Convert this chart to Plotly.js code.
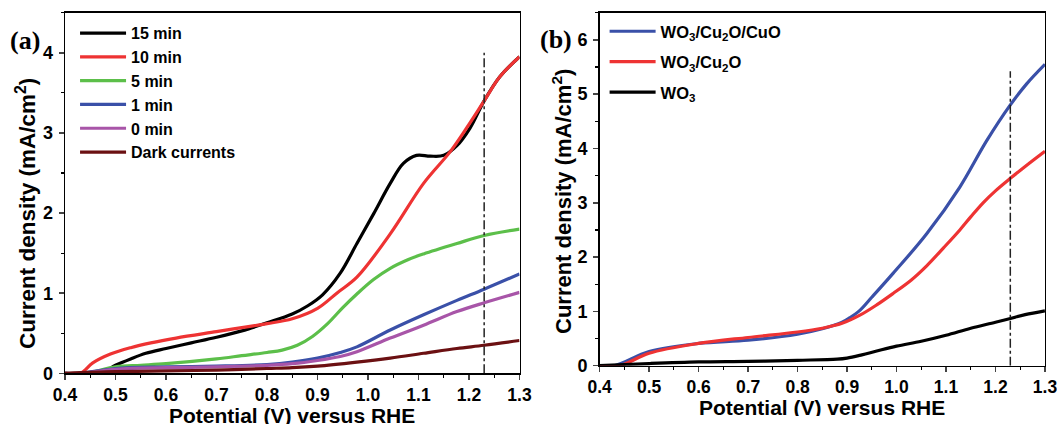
<!DOCTYPE html>
<html>
<head>
<meta charset="utf-8">
<script src="https://cdn.plot.ly/plotly-3.0.1.min.js"></script>
<style>html,body{margin:0;padding:0;background:#fff}#chart{width:1057px;height:425px}</style>
</head>
<body>
<div id="chart"></div>
<script>
// ---------- Panel (a) data ----------
const xA_15 = [0.40, 0.47, 0.50, 0.53, 0.56, 0.60, 0.65, 0.70, 0.75, 0.80, 0.85, 0.88, 0.91, 0.945, 0.978, 1.011, 1.044, 1.070, 1.096, 1.123, 1.150, 1.176, 1.202, 1.230, 1.261, 1.300];
const yA_15 = [0.00, 0.00, 0.10, 0.18, 0.25, 0.31, 0.38, 0.45, 0.53, 0.63, 0.74, 0.84, 0.98, 1.25, 1.62, 1.99, 2.37, 2.62, 2.72, 2.71, 2.72, 2.84, 3.06, 3.40, 3.70, 3.95];
const xA_10 = [0.40, 0.43, 0.455, 0.49, 0.53, 0.57, 0.62, 0.70, 0.75, 0.80, 0.85, 0.90, 0.94, 0.978, 1.044, 1.110, 1.162, 1.195, 1.230, 1.261, 1.300];
const yA_10 = [0.00, 0.00, 0.13, 0.24, 0.32, 0.38, 0.44, 0.52, 0.57, 0.62, 0.68, 0.81, 1.01, 1.20, 1.74, 2.37, 2.76, 3.06, 3.40, 3.70, 3.95];
const xA_5 = [0.40, 0.44, 0.50, 0.55, 0.60, 0.70, 0.75, 0.80, 0.83, 0.86, 0.89, 0.92, 0.95, 0.978, 1.011, 1.044, 1.080, 1.110, 1.176, 1.230, 1.300];
const yA_5 = [0.00, 0.00, 0.08, 0.10, 0.12, 0.18, 0.22, 0.26, 0.29, 0.35, 0.46, 0.62, 0.82, 0.99, 1.17, 1.31, 1.42, 1.49, 1.62, 1.72, 1.80];
const xA_1 = [0.40, 0.43, 0.50, 0.60, 0.70, 0.80, 0.85, 0.90, 0.945, 0.978, 1.044, 1.110, 1.176, 1.230, 1.300];
const yA_1 = [0.00, 0.00, 0.06, 0.08, 0.09, 0.11, 0.14, 0.19, 0.26, 0.33, 0.54, 0.73, 0.91, 1.05, 1.24];
const xA_0 = [0.40, 0.43, 0.50, 0.60, 0.70, 0.80, 0.85, 0.90, 0.945, 0.978, 1.044, 1.110, 1.176, 1.230, 1.300];
const yA_0 = [0.00, 0.00, 0.05, 0.07, 0.08, 0.10, 0.12, 0.16, 0.21, 0.27, 0.44, 0.60, 0.77, 0.88, 1.01];
const xA_dark = [0.40, 0.50, 0.60, 0.70, 0.80, 0.85, 0.90, 0.978, 1.044, 1.110, 1.176, 1.230, 1.300];
const yA_dark = [0.00, 0.02, 0.03, 0.04, 0.06, 0.07, 0.09, 0.14, 0.19, 0.25, 0.31, 0.35, 0.41];
const namesA = ["15 min", "10 min", "5 min", "1 min", "0 min", "Dark currents"];
const vlineA_x = [1.23, 1.23];
const vlineA_y = [0, 4];

// ---------- Panel (b) data ----------
const xB_CuO = [0.40, 0.43, 0.50, 0.60, 0.70, 0.80, 0.85, 0.89, 0.905, 0.926, 0.95, 0.993, 1.061, 1.128, 1.182, 1.229, 1.263, 1.300];
const yB_CuO = [0.00, 0.00, 0.26, 0.41, 0.47, 0.58, 0.68, 0.80, 0.88, 1.02, 1.26, 1.70, 2.43, 3.29, 4.14, 4.79, 5.19, 5.55];
const xB_Cu2O = [0.40, 0.44, 0.50, 0.60, 0.70, 0.80, 0.85, 0.89, 0.926, 0.960, 0.993, 1.030, 1.061, 1.095, 1.128, 1.150, 1.175, 1.200, 1.230, 1.260, 1.300];
const yB_Cu2O = [0.00, 0.00, 0.23, 0.41, 0.52, 0.62, 0.69, 0.78, 0.93, 1.12, 1.33, 1.58, 1.84, 2.17, 2.50, 2.74, 3.00, 3.22, 3.45, 3.67, 3.95];
const xB_WO3 = [0.40, 0.50, 0.60, 0.70, 0.80, 0.88, 0.90, 0.93, 0.96, 1.00, 1.05, 1.10, 1.15, 1.20, 1.23, 1.26, 1.30];
const yB_WO3 = [0.00, 0.04, 0.07, 0.08, 0.10, 0.12, 0.14, 0.20, 0.27, 0.36, 0.45, 0.56, 0.69, 0.80, 0.87, 0.94, 1.01];
const namesB = ["WO<sub>3</sub>/Cu<sub>2</sub>O/CuO", "WO<sub>3</sub>/Cu<sub>2</sub>O", "WO<sub>3</sub>"];
const vlineB_x = [1.23, 1.23];
const vlineB_y = [0, 5.42];

const colA = ["#000000", "#ee3333", "#5cbf4a", "#3a50a8", "#a855a8", "#6b1012"];
const colB = ["#3a50a8", "#ee3333", "#000000"];
const FONT = "Liberation Sans, Arial, sans-serif";
const SERIF = "Liberation Serif, Times New Roman, serif";
const XTITLE = "Potential (V) versus RHE";
const YTITLE = "Current density (mA/cm<sup>2</sup>)";

function tr(x, y, name, color, xa, ya, leg) {
  return {x: x, y: y, name: name, type: "scatter", mode: "lines",
    line: {color: color, width: 3.2, shape: "spline", smoothing: 1.0},
    xaxis: xa, yaxis: ya, legend: leg, legendgroup: name};
}

const data = [
  tr(xA_15, yA_15, namesA[0], colA[0], "x", "y", "legend"),
  tr(xA_10, yA_10, namesA[1], colA[1], "x", "y", "legend"),
  tr(xA_5, yA_5, namesA[2], colA[2], "x", "y", "legend"),
  tr(xA_1, yA_1, namesA[3], colA[3], "x", "y", "legend"),
  tr(xA_0, yA_0, namesA[4], colA[4], "x", "y", "legend"),
  tr(xA_dark, yA_dark, namesA[5], colA[5], "x", "y", "legend"),
  {x: vlineA_x, y: vlineA_y, mode: "lines", showlegend: false, xaxis: "x", yaxis: "y",
   line: {color: "#222", width: 1.5, dash: "dashdot"}},
  tr(xB_CuO, yB_CuO, namesB[0], colB[0], "x2", "y2", "legend2"),
  tr(xB_Cu2O, yB_Cu2O, namesB[1], colB[1], "x2", "y2", "legend2"),
  tr(xB_WO3, yB_WO3, namesB[2], colB[2], "x2", "y2", "legend2"),
  {x: vlineB_x, y: vlineB_y, mode: "lines", showlegend: false, xaxis: "x2", yaxis: "y2",
   line: {color: "#222", width: 1.5, dash: "dashdot"}}
];

function xax(domain, anchor) {
  return {domain: domain, anchor: anchor, range: [0.4, 1.3], dtick: 0.1, tick0: 0.4, tickformat: ".1f",
    showline: true, mirror: true, linecolor: "#000", linewidth: 1.5, ticks: "outside", ticklen: 5, tickwidth: 1.5,
    minor: {dtick: 0.05, ticks: "outside", ticklen: 3, tickwidth: 1.2, tickcolor: "#000"},
    showgrid: false, zeroline: false, ticklabeloverflow: "allow", ticklabelstandoff: 0,
    tickfont: {family: FONT, size: 17.5, color: "#000", weight: "bold"}};
}
function yax(domain, anchor, range) {
  return {domain: domain, anchor: anchor, range: range, dtick: 1, tick0: 0,
    showline: true, mirror: true, linecolor: "#000", linewidth: 1.5, ticks: "outside", ticklen: 5, tickwidth: 1.5,
    minor: {dtick: 0.5, ticks: "outside", ticklen: 3, tickwidth: 1.2, tickcolor: "#000"},
    showgrid: false, zeroline: false, ticklabelstandoff: 2,
    tickfont: {family: FONT, size: 18, color: "#000", weight: "bold"}};
}
function ann(text, x, y, angle, size, fam, h) {
  const a = {text: text, xref: "paper", yref: "paper", x: x, y: y, xanchor: "center", yanchor: "middle",
    textangle: angle, showarrow: false, font: {family: fam, size: size, color: "#000", weight: "bold"}};
  if (h) { a.height = h; a.valign = "middle"; }
  return a;
}

const layout = {
  width: 1057, height: 425,
  margin: {l: 0, r: 0, t: 0, b: 0},
  paper_bgcolor: "#fff", plot_bgcolor: "#fff",
  showlegend: true,
  xaxis: xax([0.0615, 0.4915], "y"),
  yaxis: yax([0.1216, 0.9701], "x", [0, 4.5]),
  xaxis2: xax([0.5673, 0.9886], "y2"),
  yaxis2: yax([0.1395, 0.9701], "x2", [0, 6.5]),
  legend: {x: 0.071, y: 0.962, xanchor: "left", yanchor: "top", bgcolor: "rgba(0,0,0,0)",
    font: {family: FONT, size: 16, color: "#000", weight: "bold"}, itemwidth: 46, tracegroupgap: 0},
  legend2: {x: 0.572, y: 0.967, xanchor: "left", yanchor: "top", bgcolor: "rgba(0,0,0,0)",
    font: {family: FONT, size: 16.5, color: "#000", weight: "bold"}, itemwidth: 46, tracegroupgap: 6},
  annotations: [
    ann("(a)", 25 / 1057, 1 - 40 / 425, 0, 26, SERIF),
    ann("(b)", 556 / 1057, 1 - 39 / 425, 0, 26, SERIF),
    ann(YTITLE, 26 / 1057, 1 - 214 / 425, -90, 22.5, FONT),
    ann(YTITLE, 562 / 1057, 1 - 202 / 425, -90, 22, FONT),
    ann(XTITLE, 292 / 1057, 1 - 414.5 / 425, 0, 21, FONT, 18),
    ann(XTITLE, 822 / 1057, 1 - 407 / 425, 0, 21, FONT, 18)
  ]
};

Plotly.newPlot("chart", data, layout, {displayModeBar: false, staticPlot: true});
</script>
</body>
</html>
